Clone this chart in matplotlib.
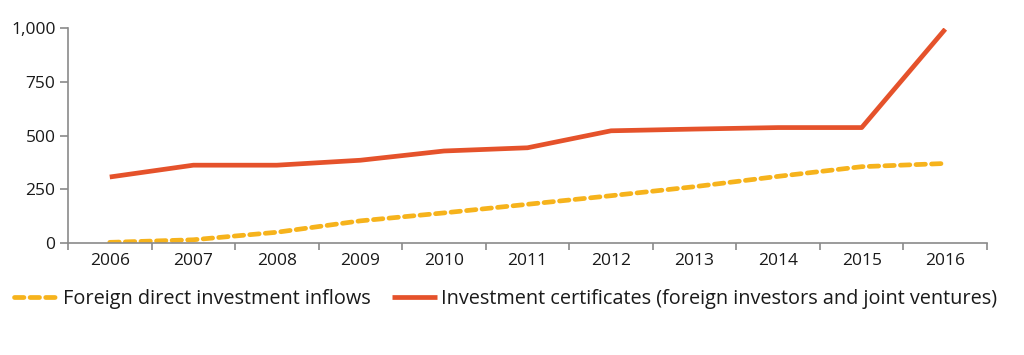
import matplotlib
matplotlib.use("Agg")
import matplotlib.pyplot as plt
import numpy as np

years = ["2006", "2007", "2008", "2009", "2010", "2011", "2012", "2013", "2014", "2015", "2016"]
fdi_inflows = [3, 15, 50, 103, 140, 180, 220, 262, 310, 355, 370]
inv_certificates = [307, 362, 362, 385, 428, 443, 522, 530, 537, 537, 995]
yticks = [0, 250, 500, 750, 1000]

plt.rcParams['font.family'] = ['Open Sans', 'DejaVu Sans']

fig = plt.figure(figsize=(10.24, 3.55), dpi=100)
ax = fig.add_axes([0.0664, 0.3155, 0.8975, 0.6055])

x = np.arange(len(years))
l1, = ax.plot(x, fdi_inflows, color='#F6B31C', lw=3.4, linestyle=(0, (2.0, 1.3)),
              dash_capstyle='round', solid_capstyle='round')
l2, = ax.plot(x, inv_certificates, color='#E5522B', lw=3.4, solid_capstyle='butt')

ax.set_xlim(-0.5, len(years) - 0.5)
ax.set_ylim(0, 1000)

ax.set_xticks(np.arange(-0.5, len(years)), labels=[])
ax.set_xticks(x, labels=years, minor=True)
ax.tick_params(axis='x', which='major', length=5, width=1.2, color='#8a8a8a', direction='out')
ax.tick_params(axis='x', which='minor', length=0, labelsize=12.5, pad=7, labelcolor='#1a1a1a')

ax.set_yticks(yticks, labels=[f"{v:,}" for v in yticks])
ax.tick_params(axis='y', length=6, width=1.2, color='#8a8a8a', labelsize=12.5, pad=3, labelcolor='#1a1a1a')

for s in ['top', 'right']:
    ax.spines[s].set_visible(False)
for s in ['left', 'bottom']:
    ax.spines[s].set_color('#8a8a8a')
    ax.spines[s].set_linewidth(1.2)

fig.legend([l1, l2], ["Foreign direct investment inflows",
                      "Investment certificates (foreign investors and joint ventures)"],
           loc='center left', bbox_to_anchor=(0.0, 0.158), ncol=2, frameon=False,
           fontsize=14.35, handlelength=2.25, handletextpad=0.2, columnspacing=1.1,
           labelcolor='#1a1a1a', borderpad=0.2)

fig.savefig("out.png", dpi=100)
